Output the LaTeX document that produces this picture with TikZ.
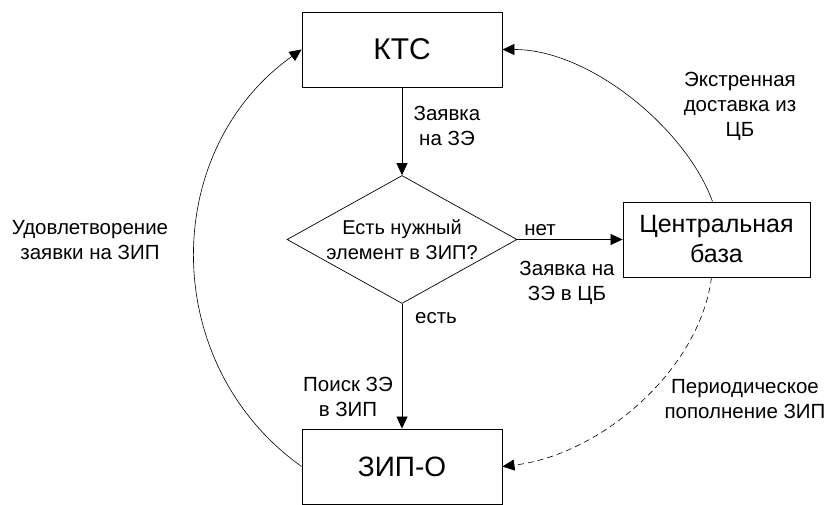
\documentclass[tikz,border=0pt]{standalone}
\usepackage{fontspec}
\setmainfont{Liberation Sans}
\usetikzlibrary{shapes.geometric,arrows.meta,calc}
\begin{document}
\begin{tikzpicture}[x=1pt,y=-1pt,
  box/.style={draw, line width=0.9pt, inner sep=0pt, align=center},
  lbl/.style={align=center, inner sep=0pt, font=\fontsize{20.5}{25}\selectfont},
  arr/.style={line width=0.7pt, -{Triangle[length=12pt,width=11pt]}},
  conn/.style={line width=0.6pt, -{Triangle[length=12pt,width=11pt]}}]
\useasboundingbox (0,0) rectangle (830,505);
\node[box, minimum width=200pt, minimum height=75pt, font=\fontsize{30}{36}\selectfont] (ktc) at (402,49.5) {КТС};
\node[box, draw, shape=diamond, aspect=1.8, minimum width=230pt, minimum height=128pt, line width=0.7pt, font=\fontsize{20}{25}\selectfont] (dec) at (402,239.5) {Есть нужный\\элемент в ЗИП?};
\node[box, minimum width=187pt, minimum height=75pt, font=\fontsize{25}{30}\selectfont] (cb) at (716.5,239.5) {Центральная\\база};
\node[box, minimum width=200pt, minimum height=75pt, font=\fontsize{28}{34}\selectfont] (zip) at (402,466.5) {ЗИП-О};
\draw[arr] (ktc.south) -- (dec.north);
\draw[arr] (dec.east) -- (cb.west);
\draw[arr] (dec.south) -- (zip.north);
\draw[conn] (zip.west) .. controls +(-142.5,-101.7) and +(-142.5,101.7) .. (ktc.west);
\draw[conn] ($(cb.north)+(-4,0)$) .. controls +(-26,-72) and +(88,0) .. (ktc.east);
\draw[conn, dash pattern=on 6pt off 4pt] ($(cb.south)+(-5,0)$) .. controls +(-12,93) and +(98,-11.5) .. (zip.east);
\node[lbl] (l1) at (447,126) {Заявка\\на ЗЭ};
\node[lbl] (l2) at (540,230) {нет};
\node[lbl] (l3) at (567,283) {Заявка на\\ЗЭ в ЦБ};
\node[lbl] (l4) at (436,318) {есть};
\node[lbl] (l5) at (348,397) {Поиск ЗЭ\\в ЗИП};
\node[lbl] (l6) at (745,399) {Периодическое\\пополнение ЗИП};
\node[lbl] (l7) at (740,106) {Экстренная\\доставка из\\ЦБ};
\node[lbl] (l8) at (90,240) {Удовлетворение\\заявки на ЗИП};
\end{tikzpicture}
\end{document}
